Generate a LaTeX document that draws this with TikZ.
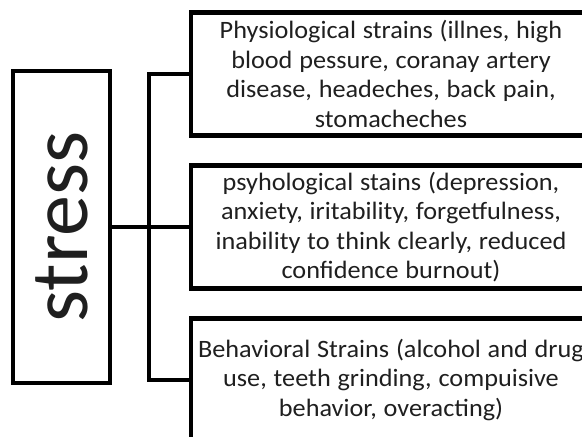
\documentclass[tikz,border=0pt]{standalone}
\usepackage{fontspec}
\setmainfont{Carlito}
\newfontfamily\boxfont{Carlito}[FakeStretch=1.05, WordSpace=1.15]
\begin{document}
\begin{tikzpicture}[x=1pt,y=-1pt,
  line width=4.4pt, line join=miter,
  txt/.style={text=black!88},
  strainbox/.style={draw, txt, rectangle, minimum width=400pt, minimum height=123pt,
    align=center, inner sep=0pt, font=\boxfont\fontsize{25}{29.5}\selectfont},
  stressbox/.style={draw, txt, rectangle, minimum width=97pt, minimum height=312pt,
    inner sep=0pt, font=\fontsize{82}{90}\selectfont}]
\useasboundingbox (0,0) rectangle (582,437);
\clip (0,0) rectangle (582,437);
\node[stressbox] (stress) at (61.5,227) {\rotatebox{90}{stress}};
\node[strainbox] (b1) at (391,74) {Physiological strains (illnes, high\\blood pessure, coranay artery\\disease, headeches, back pain,\\stomacheches};
\node[strainbox] (b2) at (391,227) {psyhological stains (depression,\\anxiety, iritability, forgetfulness,\\inability to think clearly, reduced\\confidence burnout)};
\node[strainbox] (b3) at (391,380) {Behavioral Strains (alcohol and drug\\use, teeth grinding, compuisive\\behavior, overacting)};
\draw (stress.east) -- (b2.west);
\draw (b1.west) -- ++(-40,0) |- (b3.west);
\end{tikzpicture}
\end{document}
